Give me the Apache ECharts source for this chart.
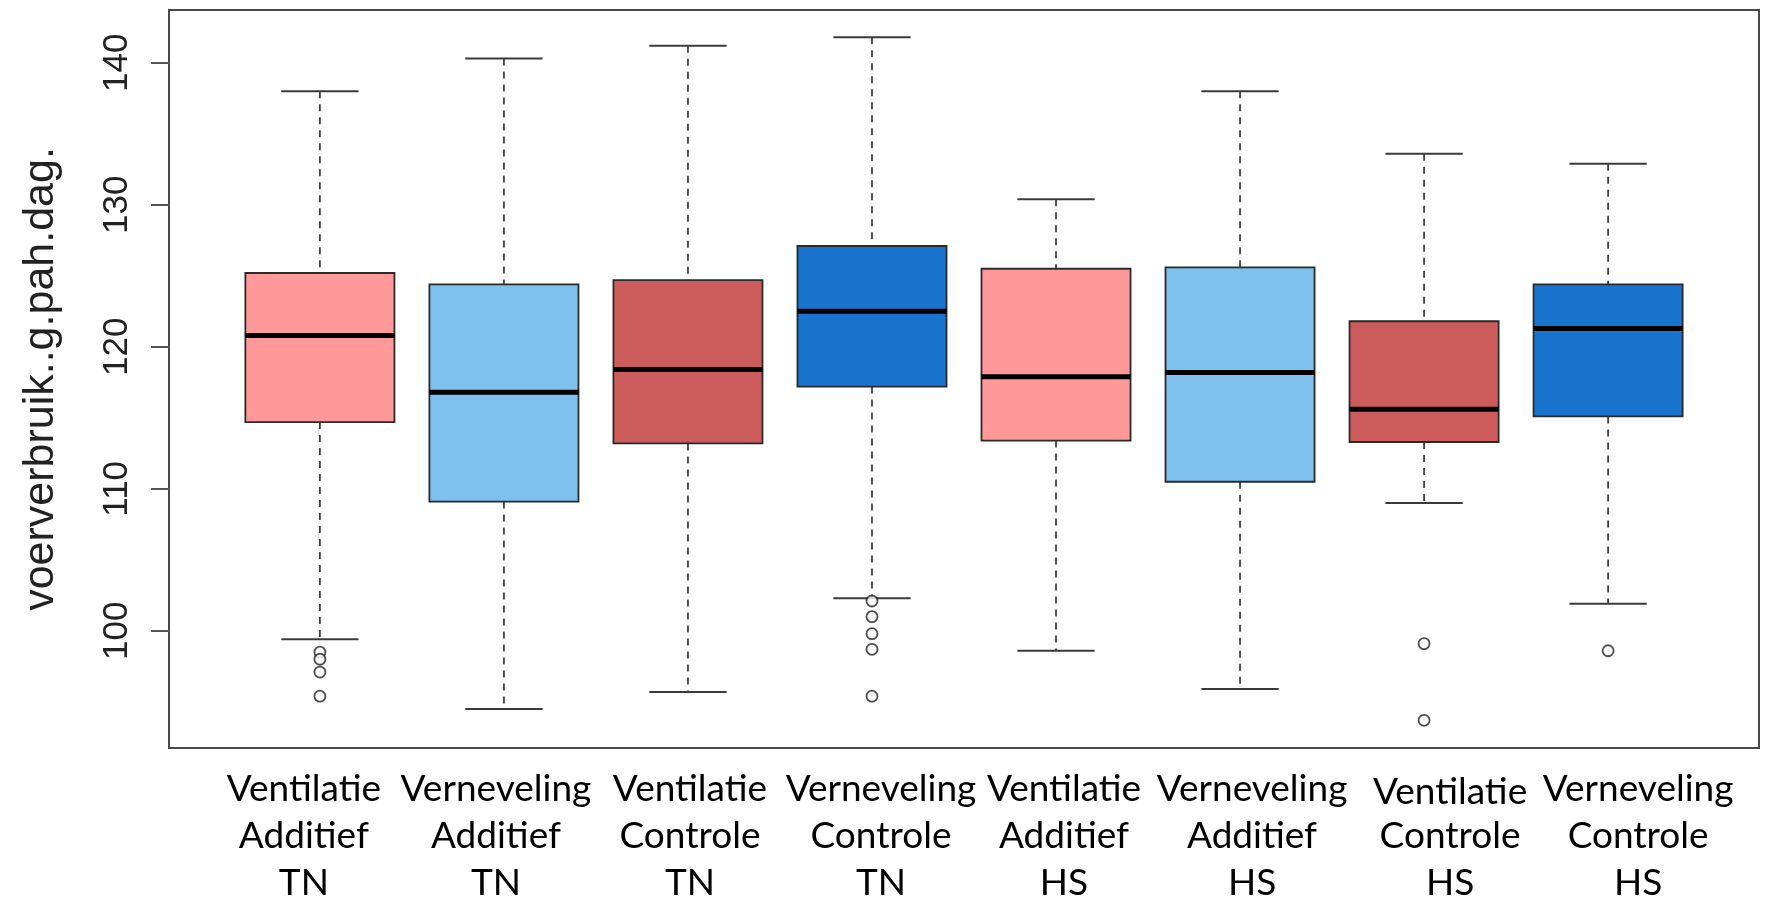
<!DOCTYPE html>
<html>
<head>
<meta charset="utf-8">
<title>voerverbruik per behandeling</title>
<script src="https://cdn.jsdelivr.net/npm/echarts@6/dist/echarts.min.js"></script>
<style>
  html, body { margin: 0; padding: 0; background: #ffffff; }
  #chart { width: 1767px; height: 908px; }
</style>
</head>
<body>
<div id="chart"></div>
<script>
// Groups (treatment x climate), one box each
const categories = [
  'Ventilatie\nAdditief\nTN',
  'Verneveling\nAdditief\nTN',
  'Ventilatie\nControle\nTN',
  'Verneveling\nControle\nTN',
  'Ventilatie\nAdditief\nHS',
  'Verneveling\nAdditief\nHS',
  'Ventilatie\nControle\nHS',
  'Verneveling\nControle\nHS'
];

// Five-number summaries (g per animal per day)
const whiskerLow  = [99.4, 94.5, 95.7, 102.3, 98.6, 95.9, 109.0, 101.9];
const quart1      = [114.7, 109.1, 113.2, 117.2, 113.4, 110.5, 113.3, 115.1];
const medians     = [120.8, 116.8, 118.4, 122.5, 117.9, 118.2, 115.6, 121.3];
const quart3      = [125.2, 124.4, 124.7, 127.1, 125.5, 125.6, 121.8, 124.4];
const whiskerHigh = [138.0, 140.3, 141.2, 141.8, 130.4, 138.0, 133.6, 132.9];

// Points beyond the whiskers, per group
const outliers = [
  [98.5, 98.0, 97.1, 95.4],
  [],
  [],
  [102.1, 101.0, 99.8, 98.7, 95.4],
  [],
  [],
  [99.1, 93.7],
  [98.6]
];

const yTicks = [100, 110, 120, 130, 140];
const yName = 'voerverbruik..g.pah.dag.';

// ---- styling ----
const boxColors = ['#FF9999', '#7EC0EE', '#CD5C5C', '#1874CD',
                   '#FF9999', '#7EC0EE', '#CD5C5C', '#1874CD'];
const BOX_HALF = 0.405;   // half box width, in x units
const CAP_HALF = 0.21;    // half staple width
const X_MIN = 0.18, X_MAX = 8.82;
const Y_MIN = 91.75, Y_MAX = 143.72;
const GRID = { left: 169, right: 8, top: 10, bottom: 160 };
const CHART_W = 1767;
const UNIT_PX = (CHART_W - GRID.left - GRID.right) / (X_MAX - X_MIN);
// horizontal nudge (px) of each x label block, and which block sits a bit lower
const labelShift = [-16, -8, 2, 9, 8, 12, 26, 30];
const loweredLabel = 6;

const boxData = categories.map((_, i) =>
  [i + 1, whiskerLow[i], quart1[i], medians[i], quart3[i], whiskerHigh[i]]);
const outlierData = [];
outliers.forEach((arr, i) => arr.forEach(v => outlierData.push([i + 1, v])));

// x positions (axis units) where the label blocks are centred
const labelPos = categories.map((_, i) => i + 1 + labelShift[i] / UNIT_PX);

const labelFont = { fontFamily: 'Lato', fontSize: 37, lineHeight: 47, color: '#000' };
const rich = {
  a: Object.assign({}, labelFont),
  b: Object.assign({}, labelFont, { padding: [5, 0, 0, 0] })
};

function renderBox(params, api) {
  const i = params.dataIndex;
  const x = api.value(0);
  const lo = api.value(1), q1 = api.value(2), med = api.value(3),
        q3 = api.value(4), hi = api.value(5);
  const tl = api.coord([x - BOX_HALF, q3]);
  const br = api.coord([x + BOX_HALF, q1]);
  const pHi = api.coord([x, hi]), pQ3 = api.coord([x, q3]);
  const pQ1 = api.coord([x, q1]), pLo = api.coord([x, lo]);
  const capL = api.coord([x - CAP_HALF, hi])[0];
  const capR = api.coord([x + CAP_HALF, hi])[0];
  const mL = api.coord([x - BOX_HALF, med]), mR = api.coord([x + BOX_HALF, med]);
  const dash = { stroke: '#2a2a2a', lineWidth: 1.6, lineDash: [7, 6] };
  const solid = { stroke: '#3a3a3a', lineWidth: 2 };
  return {
    type: 'group',
    children: [
      { type: 'line', shape: { x1: pHi[0], y1: pHi[1], x2: pQ3[0], y2: pQ3[1] }, style: dash },
      { type: 'line', shape: { x1: pQ1[0], y1: pQ1[1], x2: pLo[0], y2: pLo[1] }, style: dash },
      { type: 'line', shape: { x1: capL, y1: pHi[1], x2: capR, y2: pHi[1] }, style: solid },
      { type: 'line', shape: { x1: capL, y1: pLo[1], x2: capR, y2: pLo[1] }, style: solid },
      { type: 'rect',
        shape: { x: tl[0], y: tl[1], width: br[0] - tl[0], height: br[1] - tl[1] },
        style: { fill: boxColors[i], stroke: '#2a2a2a', lineWidth: 1.8 } },
      { type: 'line', shape: { x1: mL[0], y1: mL[1], x2: mR[0], y2: mR[1] },
        style: { stroke: '#000', lineWidth: 5 } }
    ]
  };
}

const chart = echarts.init(document.getElementById('chart'), null, { renderer: 'canvas' });
chart.setOption({
  animation: false,
  backgroundColor: '#ffffff',
  grid: Object.assign({
    show: true, borderColor: '#4a4a4a', borderWidth: 2, backgroundColor: 'transparent'
  }, GRID),
  xAxis: {
    type: 'value',
    min: X_MIN, max: X_MAX,
    axisLine: { show: false },
    axisTick: { show: false },
    splitLine: { show: false },
    axisLabel: {
      customValues: labelPos,
      showMinLabel: true,
      showMaxLabel: true,
      hideOverlap: false,
      margin: 18,
      formatter: function (v) {
        let i = 0;
        labelPos.forEach((p, k) => { if (Math.abs(p - v) < Math.abs(labelPos[i] - v)) i = k; });
        return categories[i].split('\n').map((s, line) =>
          '{' + (i === loweredLabel && line === 0 ? 'b' : 'a') + '|' + s + '}').join('\n');
      },
      rich: rich
    }
  },
  yAxis: {
    type: 'value',
    min: Y_MIN, max: Y_MAX,
    name: yName,
    nameLocation: 'middle',
    nameRotate: 90,
    nameGap: 106,
    nameTextStyle: { fontFamily: 'Liberation Sans', fontSize: 43, color: '#222' },
    axisLine: { show: false },
    splitLine: { show: false },
    axisTick: {
      show: true, length: 18, inside: false,
      customValues: yTicks,
      lineStyle: { color: '#555', width: 2 }
    },
    axisLabel: {
      customValues: yTicks,
      rotate: 90,
      margin: 34,
      fontFamily: 'Liberation Sans',
      fontSize: 35,
      color: '#222'
    }
  },
  series: [
    {
      type: 'custom',
      renderItem: renderBox,
      data: boxData,
      encode: { x: 0, y: [1, 2, 3, 4, 5] },
      clip: false
    },
    {
      type: 'scatter',
      data: outlierData,
      symbol: 'circle',
      symbolSize: 11,
      itemStyle: { color: '#ffffff', borderColor: '#222', borderWidth: 1.8 },
      z: 3
    }
  ]
});
</script>
</body>
</html>
